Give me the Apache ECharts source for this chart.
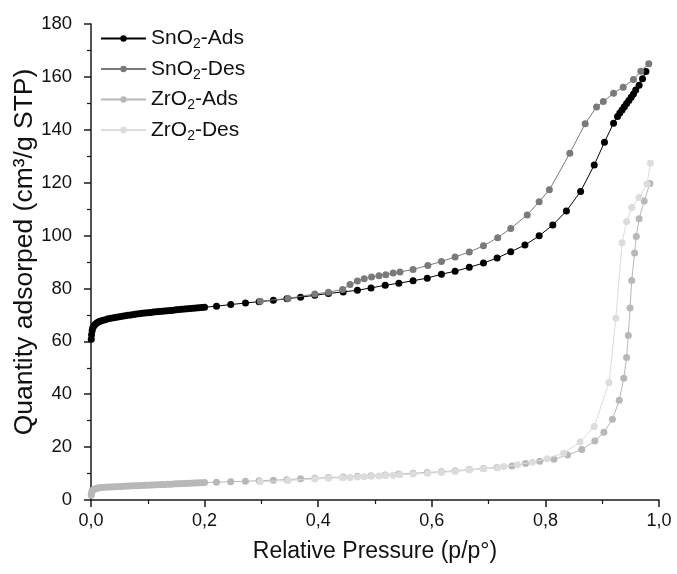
<!DOCTYPE html>
<html>
<head>
<meta charset="utf-8">
<script src="https://cdn.jsdelivr.net/npm/echarts@6/dist/echarts.min.js"></script>
<style>
html,body{margin:0;padding:0;background:#fff;}
#chart{width:677px;height:574px;}
</style>
</head>
<body>
<div id="chart"></div>
<script>
// ---- data ----
const seriesNames = ['SnO2-Ads', 'SnO2-Des', 'ZrO2-Ads', 'ZrO2-Des'];
const xTicks = [0, 0.2, 0.4, 0.6, 0.8, 1.0];
const yTicks = [0, 20, 40, 60, 80, 100, 120, 140, 160, 180];

const snAdsX = [0.0005,0.001,0.002,0.003,0.005,0.007,0.01,0.013,0.016,0.02,0.025,0.03,0.035,0.04,0.045,0.05,0.055,0.06,0.065,0.07,0.075,0.08,0.085,0.09,0.095,0.1,0.105,0.11,0.115,0.12,0.125,0.13,0.135,0.14,0.145,0.15,0.155,0.16,0.165,0.17,0.175,0.18,0.185,0.19,0.195,0.2,
  0.221,0.246,0.272,0.296,0.321,0.345,0.369,0.394,0.418,0.444,0.469,0.493,0.518,0.542,0.567,0.592,0.617,0.641,0.666,0.691,0.715,0.739,0.764,0.789,0.813,0.837,0.862,0.886,0.904,0.92,
  0.927,0.931,0.935,0.939,0.943,0.947,0.951,0.955,0.959,0.965,0.971,0.977];
const snAdsY = [60.8,62.5,64.0,65.0,65.8,66.4,66.9,67.3,67.6,67.9,68.2,68.5,68.7,68.9,69.1,69.3,69.5,69.7,69.85,70.0,70.15,70.3,70.45,70.6,70.7,70.85,70.95,71.05,71.15,71.3,71.4,71.5,71.6,71.7,71.8,71.9,72.0,72.1,72.2,72.3,72.4,72.5,72.6,72.7,72.8,72.9,
  73.3,73.9,74.5,75.0,75.5,76.1,76.7,77.4,78.1,78.7,79.3,80.2,81.2,82.0,82.9,83.9,85.4,86.5,88.0,89.6,91.5,93.9,96.4,99.9,104.0,109.3,116.7,126.7,135.3,142.5,
  145.0,146.3,147.5,148.7,149.9,151.1,152.3,153.5,155.0,156.8,159.3,162.0];

const snDesX = [0.982,0.968,0.955,0.937,0.92,0.902,0.89,0.87,0.843,0.807,0.789,0.768,0.739,0.716,0.691,0.666,0.641,0.617,0.593,0.567,0.544,0.532,0.519,0.507,0.494,0.481,0.469,0.456,0.443,0.418,0.394,0.347,0.298];
const snDesY = [165.0,162.1,159.0,156.1,153.8,150.7,148.6,142.3,131.1,117.3,112.8,107.8,102.7,99.2,96.1,93.8,91.9,90.2,88.7,87.2,86.2,85.8,85.2,84.8,84.3,83.7,82.8,81.5,79.6,78.6,77.9,76.2,75.2];

const zrAdsX = [0.0005,0.001,0.002,0.003,0.005,0.007,0.01,0.013,0.016,0.02,0.025,0.03,0.035,0.04,0.045,0.05,0.055,0.06,0.065,0.07,0.075,0.08,0.085,0.09,0.095,0.1,0.105,0.11,0.115,0.12,0.125,0.13,0.135,0.14,0.145,0.15,0.155,0.16,0.165,0.17,0.175,0.18,0.185,0.19,0.195,0.2,
  0.221,0.246,0.272,0.296,0.321,0.345,0.369,0.394,0.418,0.444,0.469,0.493,0.518,0.542,0.567,0.592,0.617,0.641,0.666,0.691,0.715,0.741,0.765,0.79,0.815,0.839,0.864,0.887,0.903,0.918,
  0.93,0.938,0.943,0.946,0.949,0.952,0.957,0.96,0.965,0.974,0.984];
const zrAdsY = [1.8,2.8,3.4,3.7,4.0,4.2,4.4,4.5,4.6,4.7,4.8,4.9,4.95,5.0,5.05,5.1,5.15,5.2,5.25,5.3,5.35,5.4,5.45,5.5,5.55,5.6,5.65,5.7,5.75,5.8,5.85,5.9,5.95,6.0,6.05,6.1,6.15,6.2,6.25,6.3,6.35,6.4,6.45,6.5,6.55,6.6,
  6.7,6.9,7.1,7.3,7.5,7.7,8.0,8.2,8.5,8.7,9.0,9.2,9.5,9.8,10.1,10.4,10.7,11.1,11.5,11.9,12.3,12.9,13.8,14.7,15.4,17.0,19.1,22.3,25.6,30.5,
  37.7,46.0,53.9,62.2,72.6,83.0,93.4,99.6,106.4,113.1,119.7];

const zrDesX = [0.985,0.979,0.965,0.952,0.943,0.935,0.924,0.912,0.886,0.861,0.832,0.803,0.777,0.751,0.727,0.716,0.691,0.666,0.641,0.617,0.593,0.567,0.544,0.532,0.519,0.507,0.494,0.481,0.469,0.456,0.443,0.418,0.394,0.347,0.298];
const zrDesY = [127.3,119.5,114.4,110.6,105.3,97.3,68.7,44.4,27.8,21.9,17.7,15.6,14.3,13.3,12.7,12.2,11.8,11.3,10.8,10.4,10.1,9.8,9.6,9.4,9.3,9.1,9.0,8.8,8.7,8.5,8.4,8.2,7.9,7.4,6.9];

// ---- presentation ----
const colors = ['#000000', '#7a7a7a', '#b8b8b8', '#dcdcdc'];
const FONT = "'Liberation Sans', Arial, sans-serif";

function zip(xs, ys) { return xs.map((x, i) => [x, ys[i]]); }
const dataSets = [zip(snAdsX, snAdsY), zip(snDesX, snDesY), zip(zrAdsX, zrAdsY), zip(zrDesX, zrDesY)];

const chart = echarts.init(document.getElementById('chart'), null, {renderer: 'canvas'});
chart.setOption({
  animation: false,
  backgroundColor: '#ffffff',
  textStyle: {fontFamily: FONT},
  grid: {left: 91, right: 18, top: 24, bottom: 74, containLabel: false, outerBoundsMode: 'none'},
  legend: {
    orient: 'vertical',
    left: 100, top: 28, padding: 0,
    itemWidth: 45, itemHeight: 8, itemGap: 7,
    data: seriesNames,
    formatter: function (name) {
      const m = name.match(/^(\D+O)2(-.*)$/);
      return '{t|' + m[1] + '}{s|2}{t|' + m[2] + '}';
    },
    textStyle: {
      color: '#111', fontFamily: FONT, fontSize: 21,
      rich: {
        t: {fontSize: 21, fontFamily: FONT, color: '#111'},
        s: {fontSize: 14, fontFamily: FONT, color: '#111', padding: [12, 0, 0, 0]}
      }
    }
  },
  xAxis: {
    type: 'value', min: xTicks[0], max: xTicks[xTicks.length - 1], interval: 0.2,
    name: 'Relative Pressure (p/p°)', nameLocation: 'middle', nameGap: 40,
    nameMoveOverlap: false,
    nameTextStyle: {fontSize: 23, color: '#111', fontFamily: FONT},
    axisLine: {show: true, onZero: false, lineStyle: {color: '#1a1a1a', width: 1.5}},
    axisTick: {show: true, inside: false, length: 7, lineStyle: {color: '#1a1a1a', width: 1.5}},
    minorTick: {show: true, splitNumber: 2, length: 4, lineStyle: {color: '#1a1a1a', width: 1.2}},
    axisLabel: {fontSize: 18, color: '#111', margin: 12, fontFamily: FONT,
      formatter: v => v.toFixed(1).replace('.', ',')},
    splitLine: {show: false}
  },
  yAxis: {
    type: 'value', min: yTicks[0], max: yTicks[yTicks.length - 1], interval: 20,
    name: 'Quantity adsorped (cm³/g STP)', nameLocation: 'middle', nameGap: 53,
    nameMoveOverlap: false,
    nameTextStyle: {fontSize: 26.5, color: '#111', fontFamily: FONT, padding: [0, 0, 0, 20]},
    axisLine: {show: true, onZero: false, lineStyle: {color: '#1a1a1a', width: 1.5}},
    axisTick: {show: true, inside: false, length: 7, lineStyle: {color: '#1a1a1a', width: 1.5}},
    minorTick: {show: true, splitNumber: 2, length: 4, lineStyle: {color: '#1a1a1a', width: 1.2}},
    axisLabel: {fontSize: 18.5, color: '#111', margin: 19, fontFamily: FONT},
    splitLine: {show: false}
  },
  series: seriesNames.map((n, i) => ({
    name: n,
    type: 'line',
    data: dataSets[i],
    symbol: 'circle',
    symbolSize: 7,
    showSymbol: true,
    color: colors[i],
    itemStyle: {color: colors[i]},
    lineStyle: {color: colors[i], width: 1},
    emphasis: {disabled: true},
    z: 2 + i
  }))
});
</script>
</body>
</html>
